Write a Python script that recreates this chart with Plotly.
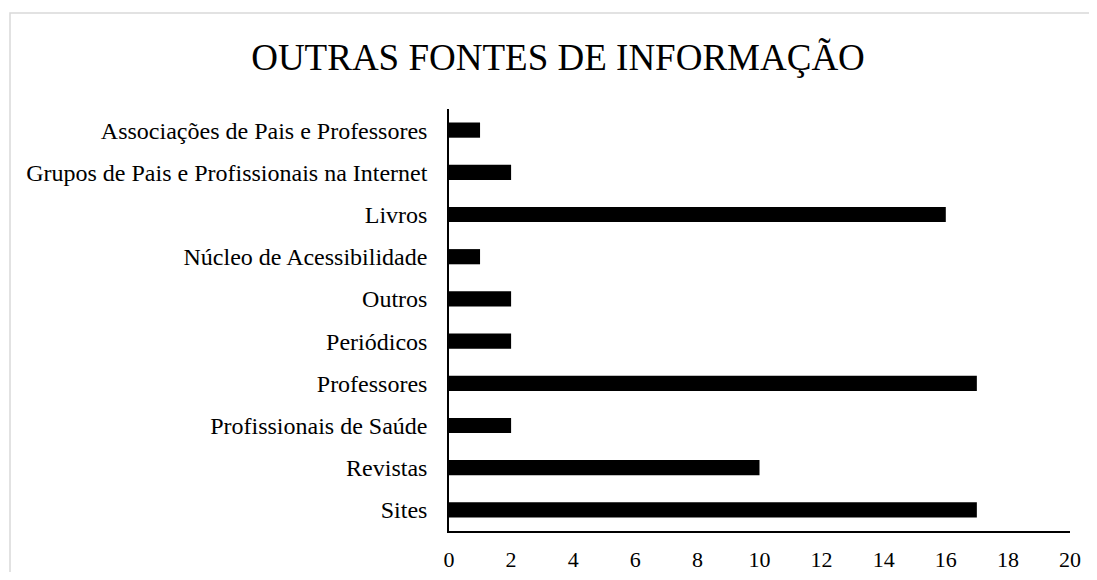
import plotly.graph_objects as go

categories = [
    "Associações de Pais e Professores",
    "Grupos de Pais e Profissionais na Internet",
    "Livros",
    "Núcleo de Acessibilidade",
    "Outros",
    "Periódicos",
    "Professores",
    "Profissionais de Saúde",
    "Revistas",
    "Sites",
]
values = [1, 2, 16, 1, 2, 2, 17, 2, 10, 17]
x_ticks = [0, 2, 4, 6, 8, 10, 12, 14, 16, 18, 20]

FONT = "Liberation Serif, Times New Roman, serif"

# page offsets (body margin 8px)
PX0, PX1, PY0, PY1 = 449, 1070, 109, 531
PW, PH = PX1 - PX0, PY1 - PY0

fig = go.Figure(
    go.Bar(
        x=values,
        y=categories,
        orientation="h",
        marker=dict(color="black", line=dict(width=0)),
        width=0.36,
        hoverinfo="x+y",
    )
)

fig.update_layout(
    width=1081,
    height=564,
    margin=dict(l=441, r=19, t=101, b=41, autoexpand=False),
    paper_bgcolor="white",
    plot_bgcolor="white",
    showlegend=False,
    font=dict(family=FONT, color="black", size=22),
    title=dict(
        text="OUTRAS FONTES DE INFORMAÇÃO",
        font=dict(family=FONT, size=37, color="black"),
        x=(558 - 8) / 1081,
        xanchor="center",
        y=1 - (57 - 8) / 564,
        yanchor="middle",
    ),
    xaxis=dict(
        range=[0, 20],
        tickvals=x_ticks,
        ticktext=[str(v) for v in x_ticks],
        showgrid=False,
        zeroline=False,
        showline=True,
        linecolor="black",
        linewidth=1.5,
        ticks="",
        ticklen=0,
        tickfont=dict(family=FONT, size=22, color="black"),
        ticklabelstandoff=8,
        automargin=False,
        fixedrange=True,
    ),
    yaxis=dict(
        categoryorder="array",
        categoryarray=categories,
        autorange="reversed",
        showgrid=False,
        zeroline=False,
        showline=True,
        linecolor="black",
        linewidth=1.5,
        ticks="",
        ticklen=0,
        ticklabelstandoff=15,
        tickfont=dict(family=FONT, size=24, color="black"),
        automargin=False,
        fixedrange=True,
    ),
    shapes=[
        dict(
            type="rect",
            xref="paper",
            yref="paper",
            x0=(10 - PX0) / PW,
            x1=(1130 - PX0) / PW,
            y0=(PY1 - 640) / PH,
            y1=(PY1 - 13) / PH,
            line=dict(color="#d9d9d9", width=1.5),
            fillcolor="rgba(0,0,0,0)",
            layer="below",
        )
    ],
    annotations=[
        dict(
            text="p",
            xref="paper",
            yref="paper",
            x=(538 - PX0) / PW,
            y=(PY1 + 2) / PH,
            xanchor="center",
            yanchor="bottom",
            showarrow=False,
            font=dict(family=FONT, size=22, color="black"),
        )
    ],
)

fig.write_html("out.html")
